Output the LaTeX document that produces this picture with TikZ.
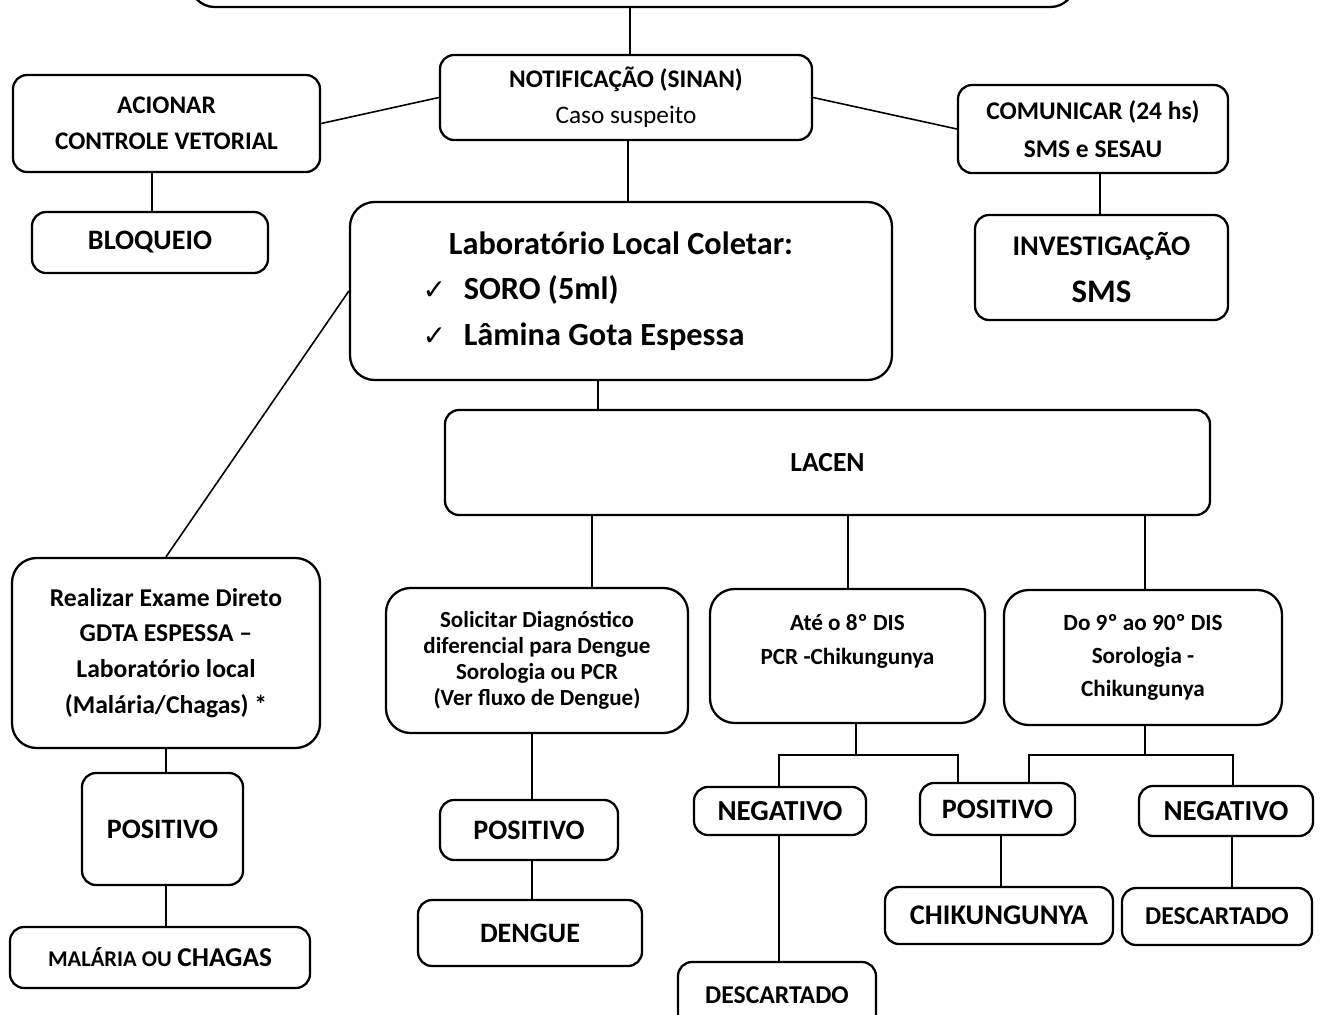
\documentclass[tikz,border=0pt]{standalone}
\usepackage{fontspec}
\setmainfont{Carlito}
\newfontfamily\simbolos{DejaVu Sans}
% tamanhos de letra
\newcommand\tamN{\fontsize{14.4pt}{20.5pt}\selectfont}
\newcommand\tamP{\fontsize{13.1pt}{14.8pt}\selectfont}
\newcommand\tamD{\fontsize{13.2pt}{18.8pt}\selectfont}
\newcommand\tamR{\fontsize{16pt}{19pt}\selectfont}
\newcommand\tamG{\fontsize{18.4pt}{26pt}\selectfont}
\newcommand\visto{{\simbolos\fontsize{16pt}{16pt}\selectfont ✓}\hspace{10pt}}
\tikzset{
	caixa/.style={draw, line width=1.3pt, rounded corners=8pt, align=center,
		inner sep=0pt, font=\bfseries\tamN},
	caixag/.style={caixa, rounded corners=14pt},
	tam/.style 2 args={minimum width=#1*0.02cm, minimum height=#2*0.02cm},
	liga/.style={line width=0.9pt}
}
\begin{document}
\begin{tikzpicture}[x=0.02cm, y=-0.02cm]
	% area visivel
	\clip (0,0) rectangle (1330,1015);
	% caixas do topo
	\node[caixag, tam={885}{67}] (topo) at (632.5,-26.5) {};
	\node[caixa, tam={372}{85}] (notif) at (626,97.5)
		{NOTIFICAÇÃO (SINAN)\\\mdseries Caso suspeito};
	\node[caixa, tam={307}{97}] (acionar) at (166.5,123.5)
		{ACIONAR\\CONTROLE VETORIAL};
	\node[caixa, tam={236}{61}, font=\bfseries\tamR] (bloqueio) at (150,242.5) {BLOQUEIO};
	\node[caixa, tam={270}{88}, font=\bfseries\fontsize{14.5pt}{22pt}\selectfont] (comunicar) at (1093,129)
		{COMUNICAR (24 hs)\\SMS e SESAU};
	\node[caixa, tam={253}{105}, font=\bfseries\fontsize{16.2pt}{26.6pt}\selectfont] (investig) at (1101.5,267.5)
		{INVESTIGAÇÃO\\{\fontsize{18.7pt}{26.6pt}\selectfont SMS}};
	% coleta
	\node[caixag, tam={542}{178}, align=left, font=\bfseries\tamG] (lab) at (621,291)
		{\hspace*{15pt}Laboratório Local Coletar:\hspace*{15pt}\mbox{}\\
		 \visto SORO (5ml)\\
		 \visto Lâmina Gota Espessa};
	\node[caixa, tam={765}{105}, font=\bfseries\fontsize{15.7pt}{19pt}\selectfont] (lacen) at (827.5,462.5) {LACEN};
	% exames
	\node[caixag, tam={308}{190}, font=\bfseries\fontsize{14.6pt}{20.4pt}\selectfont] (realizar) at (166,653)
		{Realizar Exame Direto\\GDTA ESPESSA --\\Laboratório local\\(Malária/Chagas) *};
	\node[caixag, tam={302}{145}, font=\bfseries\tamP] (solicitar) at (537,660.5)
		{Solicitar Diagnóstico\\diferencial para Dengue\\Sorologia ou PCR\\(Ver fluxo de Dengue)};
	\node[caixag, tam={275}{134}, font=\bfseries\tamD] (ate) at (847.5,656)
		{Até o 8º DIS\\PCR -Chikungunya\\\mbox{}};
	\node[caixag, tam={278}{135}, font=\bfseries\tamD] (do9) at (1143,657.5)
		{Do 9º ao 90º DIS\\Sorologia -\\Chikungunya};
	% resultados
	\node[caixa, tam={161}{112}, font=\bfseries\tamR] (posA) at (162.5,829) {POSITIVO};
	\node[caixa, tam={300}{61}] (malaria) at (160,957.5)
		{{\fontsize{12.8pt}{15pt}\selectfont MALÁRIA OU} {\fontsize{15.5pt}{18pt}\selectfont CHAGAS}};
	\node[caixa, tam={178}{60}, font=\bfseries\tamR] (posB) at (529,830) {POSITIVO};
	\node[caixa, tam={224}{66}, font=\bfseries\tamR] (dengue) at (530,933) {DENGUE};
	\node[caixa, tam={172}{48}, font=\bfseries\fontsize{16.5pt}{19pt}\selectfont] (negA) at (780,811) {NEGATIVO};
	\node[caixa, tam={198}{66}, font=\bfseries\fontsize{14.6pt}{18pt}\selectfont] (descA) at (777,995) {DESCARTADO};
	\node[caixa, tam={155}{52}, font=\bfseries\tamR] (posC) at (997.5,809) {POSITIVO};
	\node[caixa, tam={174}{50}, font=\bfseries\fontsize{16.5pt}{19pt}\selectfont] (negB) at (1226,811) {NEGATIVO};
	\node[caixa, tam={228}{57}, font=\bfseries\fontsize{16.2pt}{19pt}\selectfont] (chik) at (999,915.5) {CHIKUNGUNYA};
	\node[caixa, tam={190}{57}, font=\bfseries\fontsize{14.6pt}{18pt}\selectfont] (descB) at (1217,916.5) {DESCARTADO};
	% ligacoes verticais
	\foreach \de/\para/\xx in {topo/notif/630, acionar/bloqueio/152, comunicar/investig/1100,
		notif/lab/628, lab/lacen/598, lacen/solicitar/592, lacen/ate/848, lacen/do9/1145,
		realizar/posA/166, posA/malaria/166, solicitar/posB/532, posB/dengue/532,
		negA/descA/779, posC/chik/1001, negB/descB/1232}
	{
		\draw[liga] (\de.south -| \xx,0) -- (\para.north -| \xx,0);
	}
	% ligacoes inclinadas
	\draw[liga] (acionar.east) -- (notif.west);
	\draw[liga] (notif.east) -- (comunicar.west);
	\draw[liga] (lab.west) -- (realizar.north);
	% chaves dos resultados
	\coordinate (jA) at (856,755);
	\coordinate (jB) at (1145,755);
	\draw[liga] (ate.south -| jA) -- (jA);
	\draw[liga] (negA.north -| 779,0) |- (jA) -| (posC.north -| 958,0);
	\draw[liga] (do9.south -| jB) -- (jB);
	\draw[liga] (posC.north -| 1029,0) |- (jB) -| (negB.north -| 1233,0);
\end{tikzpicture}
\end{document}
